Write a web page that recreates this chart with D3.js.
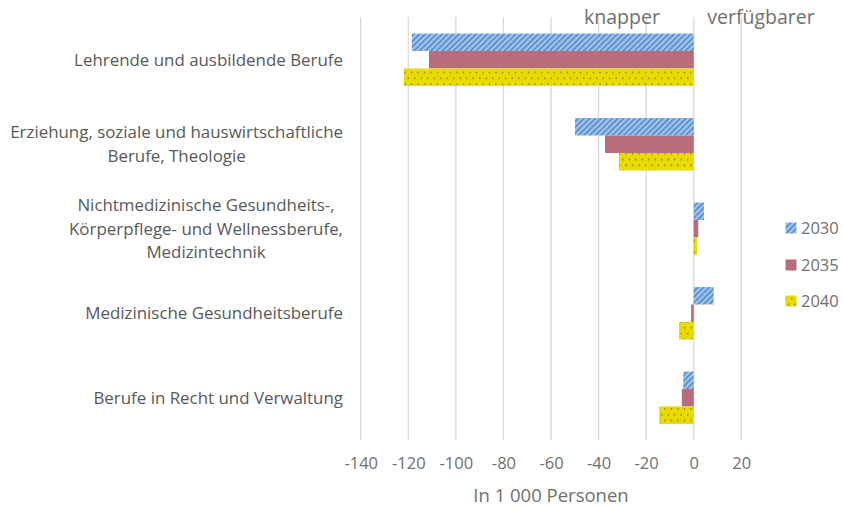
<!DOCTYPE html>
<html>
<head>
<meta charset="utf-8">
<script src="https://cdn.jsdelivr.net/npm/d3@7"></script>
<style>
  body { margin: 0; background: #fff; }
  text { font-family: "Open Sans", sans-serif; }
</style>
</head>
<body>
<svg id="chart"></svg>
<script>
// data
const categories = [
  ['Lehrende und ausbildende Berufe'],
  ['Erziehung, soziale und hauswirtschaftliche', 'Berufe, Theologie'],
  ['Nichtmedizinische Gesundheits-,', 'Körperpflege- und Wellnessberufe,', 'Medizintechnik'],
  ['Medizinische Gesundheitsberufe'],
  ['Berufe in Recht und Verwaltung']
];
const years = ['2030', '2035', '2040'];
const values2030 = [-118.5, -49.9, 4.3, 8.4, -4.4];
const values2035 = [-111.3, -37.3, 1.9, -1.1, -5.0];
const values2040 = [-121.8, -31.4, 1.4, -6.2, -14.5];
const xTicks = [-140, -120, -100, -80, -60, -40, -20, 0, 20];

const series = [values2030, values2035, values2040];

const width = 843;
const height = 506;

const svg = d3.select('#chart')
  .attr('width', width)
  .attr('height', height);

// patterns
const defs = svg.append('defs');
const stripes = defs.append('pattern')
  .attr('id', 'p2030')
  .attr('patternUnits', 'userSpaceOnUse')
  .attr('width', 4).attr('height', 4)
  .attr('patternTransform', 'rotate(45)');
stripes.append('rect').attr('width', 4).attr('height', 4).attr('fill', '#9dc3e6');
stripes.append('rect').attr('width', 1.3).attr('height', 4).attr('fill', '#4a7cc8');

const dots = defs.append('pattern')
  .attr('id', 'p2040')
  .attr('patternUnits', 'userSpaceOnUse')
  .attr('width', 13).attr('height', 11.6);
dots.append('rect').attr('width', 13).attr('height', 11.6).attr('fill', '#e9db00');
[[2, 2.9], [8.5, 2.9], [5.25, 8.7], [11.75, 8.7]].forEach(p => {
  dots.append('circle').attr('cx', p[0]).attr('cy', p[1]).attr('r', 0.8).attr('fill', '#6b6440');
});

const fills = ['url(#p2030)', '#b76d7e', 'url(#p2040)'];

// scales
const x = d3.scaleLinear()
  .domain([-140, 20])
  .range([360.7, 741.3]);

const y = d3.scaleBand()
  .domain(d3.range(categories.length))
  .range([17.5, 440])
  .paddingInner(0.38)
  .paddingOuter(0.19);

const yInner = d3.scaleBand()
  .domain(years)
  .range([0, y.bandwidth()]);

// gridlines
svg.append('g')
  .selectAll('line')
  .data(xTicks)
  .enter()
  .append('line')
  .attr('x1', d => x(d)).attr('x2', d => x(d))
  .attr('y1', 17).attr('y2', 440)
  .attr('stroke', '#d9d9d9')
  .attr('stroke-width', 1.3);

// bars
years.forEach((yr, s) => {
  svg.append('g')
    .selectAll('rect')
    .data(series[s])
    .enter()
    .append('rect')
    .attr('x', d => x(Math.min(0, d)))
    .attr('width', d => Math.abs(x(d) - x(0)))
    .attr('y', (d, i) => y(i) + yInner(yr))
    .attr('height', yInner.bandwidth())
    .attr('fill', fills[s]);
});

// x axis
const xAxis = d3.axisBottom(x)
  .tickValues(xTicks)
  .tickFormat(d => String(d))
  .tickSize(0)
  .tickPadding(0);

const gx = svg.append('g')
  .attr('transform', 'translate(0, 457)')
  .call(xAxis);
gx.select('.domain').remove();
gx.selectAll('text')
  .attr('font-family', '"Open Sans", sans-serif')
  .attr('font-size', 16.5)
  .attr('fill', '#707070');

svg.append('text')
  .attr('x', 551)
  .attr('y', 502)
  .attr('text-anchor', 'middle')
  .attr('font-size', 18.5)
  .attr('fill', '#707070')
  .text('In 1 000 Personen');

// category labels: lines centered within block, block right aligned
const labelRight = 343;
const lineH = 23.7;
categories.forEach((lines, i) => {
  const g = svg.append('g');
  const cy = y(i) + y.bandwidth() / 2;
  const texts = lines.map((ln, j) => g.append('text')
    .attr('y', cy + (j - (lines.length - 1) / 2) * lineH)
    .attr('dy', '0.35em')
    .attr('text-anchor', 'middle')
    .attr('font-size', 16.9)
    .attr('fill', '#595959')
    .text(ln));
  const maxW = d3.max(texts, t => t.node().getComputedTextLength());
  texts.forEach(t => t.attr('x', labelRight - maxW / 2));
});

// top labels
svg.append('text')
  .attr('x', 622).attr('y', 24)
  .attr('text-anchor', 'middle')
  .attr('font-size', 19.5)
  .attr('fill', '#707070')
  .text('knapper');
svg.append('text')
  .attr('x', 761).attr('y', 24)
  .attr('text-anchor', 'middle')
  .attr('font-size', 19.5)
  .attr('fill', '#707070')
  .text('verfügbarer');

// legend
const legend = svg.append('g');
const legendY = [228, 265, 301];
years.forEach((yr, s) => {
  legend.append('rect')
    .attr('x', 785.5).attr('y', legendY[s] - 5.5)
    .attr('width', 11).attr('height', 11)
    .attr('fill', fills[s]);
  legend.append('text')
    .attr('x', 801).attr('y', legendY[s])
    .attr('dy', '0.36em')
    .attr('font-size', 16.5)
    .attr('fill', '#707070')
    .text(yr);
});
</script>
</body>
</html>
